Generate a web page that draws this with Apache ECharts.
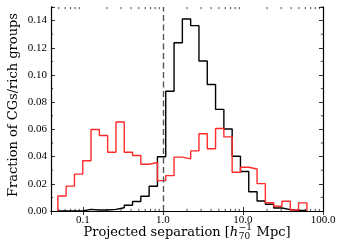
<!DOCTYPE html>
<html>
<head>
<meta charset="utf-8">
<script src="https://cdn.jsdelivr.net/npm/echarts@6/dist/echarts.min.js"></script>
<style>html,body{margin:0;padding:0;background:#fff}#c{width:343px;height:251px}</style>
</head>
<body>
<div id="c"></div>
<script>
// Bin edges (Mpc, log-spaced)
const edges = [0.0487, 0.0618, 0.0785, 0.0997, 0.1265, 0.1607, 0.204, 0.259, 0.329, 0.4176,
  0.530, 0.673, 0.855, 1.085, 1.378, 1.750, 2.222, 2.821, 3.582, 4.548,
  5.775, 7.332, 9.309, 11.82, 15.01, 19.05, 24.19, 30.72, 39.0, 49.5, 62.9];
// Fraction per bin, black histogram
const blackVals = [0, 0, 0, 0.0012, 0.0007, 0.0007, 0.0012, 0.0024, 0.0042, 0.0070,
  0.0108, 0.0182, 0.0399, 0.0881, 0.1237, 0.1412, 0.1363, 0.1103, 0.0930, 0.0747,
  0.0603, 0.0403, 0.0290, 0.0142, 0.0073, 0.0050, 0.0022, 0.0010, 0.0006, 0.0004];
// Fraction per bin, red histogram
const redVals = [0.0110, 0.0183, 0.0271, 0.0369, 0.0599, 0.0555, 0.0432, 0.0654, 0.0432, 0.0408,
  0.0344, 0.0357, 0.0223, 0.0260, 0.0396, 0.0383, 0.0442, 0.0568, 0.0458, 0.0607,
  0.0545, 0.0285, 0.0322, 0.0309, 0.0201, 0.0061, 0.0035, 0.0072, 0.0007, 0.0060];
const dividerX = 1.0;
const xMinorTicks = [0.05,0.06,0.07,0.08,0.09,0.2,0.3,0.4,0.5,0.6,0.7,0.8,0.9,2,3,4,5,6,7,8,9,20,30,40,50,60,70,80,90];
const yMinorTicks = [0.01,0.03,0.05,0.07,0.09,0.11,0.13,0.15];
const xMin = 0.04, xMax = 100, yMin = 0, yMax = 0.15, yStep = 0.02;

function stepData(vals) {
  const d = [[edges[0], 0]];
  vals.forEach((v, i) => d.push([edges[i], v]));
  d.push([edges[vals.length], vals[vals.length - 1]]);
  d.push([edges[vals.length], 0]);
  return d;
}

const TICKFONT = 'Liberation Serif';
const LABFONT = 'DejaVu Serif';
const isDecade = v => Math.abs(Math.log10(v) - Math.round(Math.log10(v))) < 1e-6;

const chart = echarts.init(document.getElementById('c'), null, {renderer: 'canvas'});

const axisCommonX = {
  type: 'log', logBase: 10, min: xMin, max: xMax,
  axisLine: {show: true, lineStyle: {color: '#000', width: 1.2}},
  axisTick: {show: true, inside: true, length: 4, lineStyle: {color: '#000', width: 0.8}},
  splitLine: {show: false}
};
const axisCommonY = {
  type: 'value', min: yMin, max: yMax, interval: yStep,
  axisLine: {show: true, lineStyle: {color: '#000', width: 1.2}},
  axisTick: {show: true, inside: true, length: 4, lineStyle: {color: '#000', width: 0.8}},
  splitLine: {show: false}
};

// Build x-axis label layout
const mctx = document.createElement('canvas').getContext('2d');
function mw(text, font) { mctx.font = font; return mctx.measureText(text).width; }
const labSize = 13, scrSize = 9;
const fMain = labSize + 'px "' + LABFONT + '"';
const fItal = 'italic ' + labSize + 'px "' + LABFONT + '"';
const fScr = scrSize + 'px "' + LABFONT + '"';
const p1 = 'Projected separation [', pH = 'h', pSup = '\u22121', pSub = '70', p2 = ' Mpc]';
const w1 = mw(p1, fMain), wH = mw(pH, fItal), wS = Math.max(mw(pSup, fScr), mw(pSub, fScr)) + 1, w2 = mw(p2, fMain);
const total = w1 + wH + wS + w2;
const cx = 187, cy = 233;
let x0 = cx - total / 2;
const gText = (x, y, text, font, align) => ({type: 'text', x: x, y: y, silent: true,
  style: {text: text, font: font, fill: '#000', align: align || 'left', verticalAlign: 'middle'}});

const graphics = [
  gText(x0, cy, p1, fMain),
  gText(x0 + w1, cy, pH, fItal),
  gText(x0 + w1 + wH + 0.5, cy - 5, pSup, fScr),
  gText(x0 + w1 + wH + 0.5, cy + 4, pSub, fScr),
  gText(x0 + w1 + wH + wS, cy, p2, fMain),
  {type: 'text', x: 14, y: 105, rotation: Math.PI / 2, silent: true,
   style: {text: 'Fraction of CGs/rich groups', font: fMain, fill: '#000', align: 'center', verticalAlign: 'middle'}}
];

chart.setOption({
  animation: false,
  backgroundColor: '#fff',
  grid: {left: 51, right: 20, top: 7, bottom: 40, containLabel: false},
  xAxis: [
    Object.assign({}, axisCommonX, {position: 'bottom',
      axisLabel: {show: true, margin: 4, color: '#000', fontFamily: TICKFONT, fontSize: 11,
        formatter: v => isDecade(v) ? Number(v).toFixed(1) : ''}}),
    Object.assign({}, axisCommonX, {position: 'top', axisLabel: {show: false}})
  ],
  yAxis: [
    Object.assign({}, axisCommonY, {position: 'left',
      axisLabel: {show: true, margin: 4, color: '#000', fontFamily: TICKFONT, fontSize: 11,
        formatter: v => (Math.abs(v / yStep - Math.round(v / yStep)) < 1e-6) ? Number(v).toFixed(2) : ''}}),
    Object.assign({}, axisCommonY, {position: 'right', axisLabel: {show: false}})
  ],
  graphic: graphics,
  series: [
    {
      type: 'line', name: 'all', xAxisIndex: 0, yAxisIndex: 0,
      data: stepData(blackVals), step: 'end', symbol: 'none',
      lineStyle: {color: '#000', width: 1.4}, z: 3,
      markLine: {silent: true, symbol: ['none', 'none'], label: {show: false},
        lineStyle: {color: '#555', width: 1.4, type: [6, 3.5]},
        data: [{xAxis: dividerX}]}
    },
    {
      type: 'line', name: 'cg', xAxisIndex: 0, yAxisIndex: 0,
      data: stepData(redVals), step: 'end', symbol: 'none',
      lineStyle: {color: '#ff2a2a', width: 1.4}, z: 4
    },
    {
      type: 'custom', xAxisIndex: 0, yAxisIndex: 0, silent: true, clip: false,
      data: xMinorTicks.map(v => [v, 0]),
      renderItem: (params, api) => {
        const v = api.value(0);
        const b = api.coord([v, yMin]), t = api.coord([v, yMax]);
        return {type: 'group', children: [
          {type: 'line', shape: {x1: b[0], y1: b[1], x2: b[0], y2: b[1] - 2.2}, style: {stroke: '#000', lineWidth: 0.7}},
          {type: 'line', shape: {x1: t[0], y1: t[1], x2: t[0], y2: t[1] + 2.2}, style: {stroke: '#000', lineWidth: 0.7}}
        ]};
      }
    },
    {
      type: 'custom', xAxisIndex: 0, yAxisIndex: 0, silent: true, clip: false,
      data: yMinorTicks.map(v => [xMin, v]),
      renderItem: (params, api) => {
        const v = api.value(1);
        const l = api.coord([xMin, v]), r = api.coord([xMax, v]);
        return {type: 'group', children: [
          {type: 'line', shape: {x1: l[0], y1: l[1], x2: l[0] + 2.2, y2: l[1]}, style: {stroke: '#000', lineWidth: 0.7}},
          {type: 'line', shape: {x1: r[0], y1: r[1], x2: r[0] - 2.2, y2: r[1]}, style: {stroke: '#000', lineWidth: 0.7}}
        ]};
      }
    }
  ]
});
</script>
</body>
</html>
